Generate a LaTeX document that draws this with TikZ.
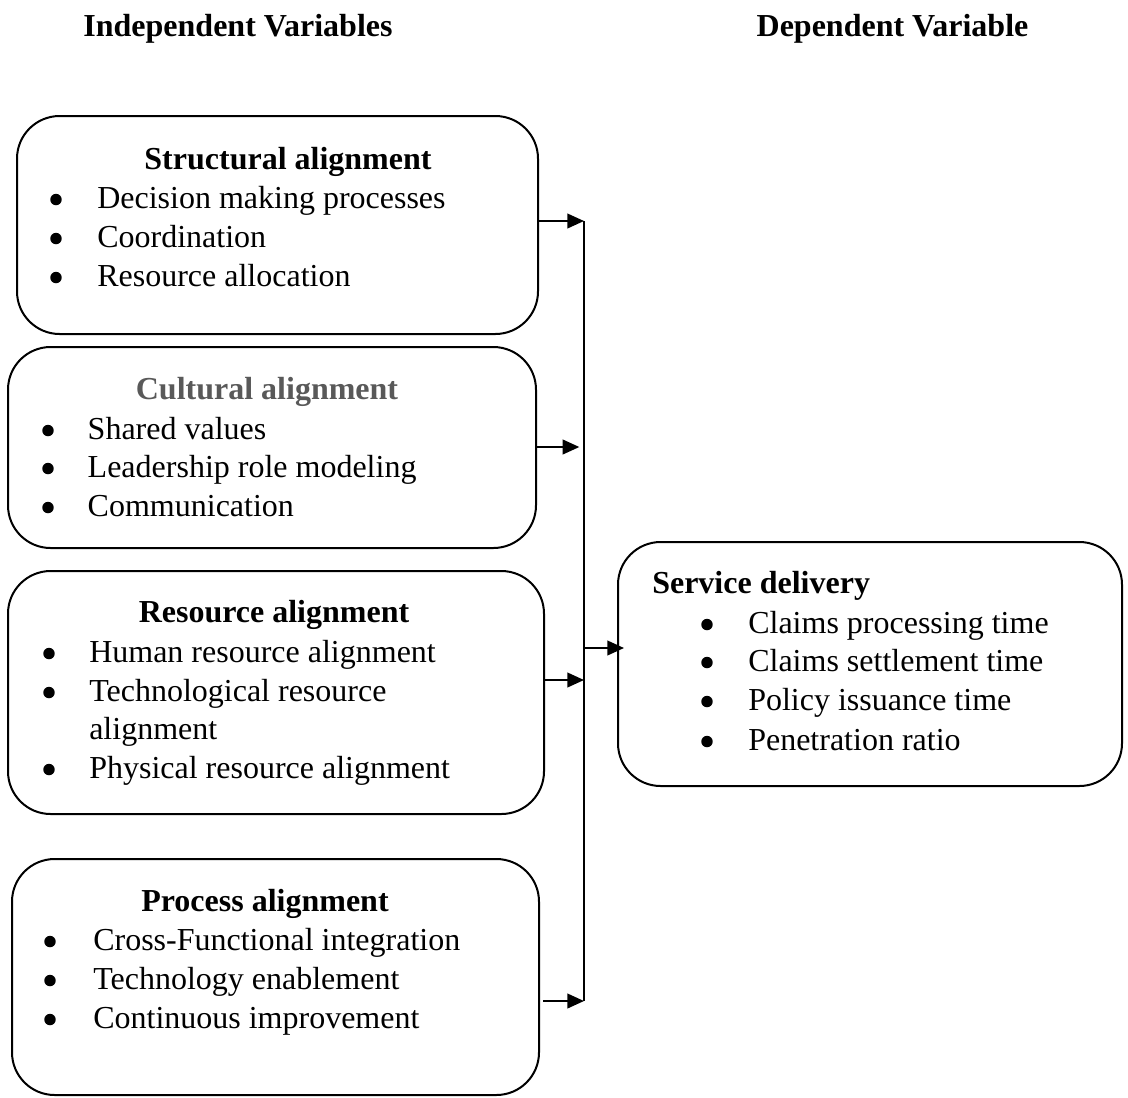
\documentclass[tikz,border=0pt]{standalone}
\usepackage{fontspec}
\setmainfont{Liberation Serif}
\usetikzlibrary{arrows.meta}
\definecolor{titlegrey}{HTML}{595959}
\newcommand{\bulmark}{\raisebox{2.2pt}{\tikz\fill (0,0) circle (4.3pt);}}
\begin{document}
\begin{tikzpicture}[x=0.75pt,y=-0.75pt,
  box/.style={draw, line width=1.5pt, rounded corners=32pt, inner sep=0pt, outer sep=0pt},
  txt/.style={anchor=west, inner sep=0pt, yshift=-3pt, font=\fontsize{24}{28}\selectfont, text height=16.8pt, text depth=6pt},
  ttl/.style={inner sep=0pt, yshift=-3pt, font=\fontsize{24}{28}\selectfont\bfseries, text height=16.8pt, text depth=6pt},
  arr/.style={line width=1.5pt, -{Triangle[length=12.5pt,width=11pt]}},
  bus/.style={line width=1.5pt},
]
\useasboundingbox (0,0) rectangle (1128,1097);

% headers
\node[ttl] (hiv) at (238,25) {Independent Variables};
\node[ttl] (hdv) at (892.5,25) {Dependent Variable};

% boxes
\node[box, minimum width=390.75pt, minimum height=163.5pt] (sa) at (277.5,225) {};
\node[box, minimum width=396pt, minimum height=150.75pt] (ca) at (272,447.5) {};
\node[box, minimum width=402pt, minimum height=182.25pt] (ra) at (276,692.5) {};
\node[box, minimum width=395.25pt, minimum height=177pt] (pa) at (275.5,977) {};
\node[box, minimum width=378pt, minimum height=183pt] (sd) at (870,664) {};

% structural
\node[ttl] (sat) at (288,158) {Structural alignment};
\node[txt] (sa1) at (50,197) {\makebox[35.25pt][l]{\bulmark}Decision making processes};
\node[txt] (sa2) at (50,236) {\makebox[35.25pt][l]{\bulmark}Coordination};
\node[txt] (sa3) at (50,275) {\makebox[35.25pt][l]{\bulmark}Resource allocation};

% cultural
\node[ttl, text=titlegrey] (cat) at (267,388) {Cultural alignment};
\node[txt] (ca1) at (42,428) {\makebox[34.1pt][l]{\bulmark}Shared values};
\node[txt] (ca2) at (42,466) {\makebox[34.1pt][l]{\bulmark}Leadership role modeling};
\node[txt] (ca3) at (42,505) {\makebox[34.1pt][l]{\bulmark}Communication};

% resource
\node[ttl] (rat) at (274,611) {Resource alignment};
\node[txt] (ra1) at (43,651) {\makebox[34.5pt][l]{\bulmark}Human resource alignment};
\node[txt] (ra2) at (43,690) {\makebox[34.5pt][l]{\bulmark}Technological resource};
\node[txt] (ra2b) at (89,728) {alignment};
\node[txt] (ra3) at (43,767) {\makebox[34.5pt][l]{\bulmark}Physical resource alignment};

% process
\node[ttl] (pat) at (265,900) {Process alignment};
\node[txt] (pa1) at (44,939) {\makebox[36.75pt][l]{\bulmark}Cross-Functional integration};
\node[txt] (pa2) at (44,978) {\makebox[36.75pt][l]{\bulmark}Technology enablement};
\node[txt] (pa3) at (44,1017) {\makebox[36.75pt][l]{\bulmark}Continuous improvement};

% service delivery
\node[ttl, anchor=west] (sdt) at (652,582) {Service delivery};
\node[txt] (sd1) at (701,622) {\makebox[35.25pt][l]{\bulmark}Claims processing time};
\node[txt] (sd2) at (701,660) {\makebox[35.25pt][l]{\bulmark}Claims settlement time};
\node[txt] (sd3) at (701,699) {\makebox[35.25pt][l]{\bulmark}Policy issuance time};
\node[txt] (sd4) at (701,739) {\makebox[35.25pt][l]{\bulmark}Penetration ratio};

% bus
\coordinate (j1) at (584,221);
\coordinate (j2) at (584,447);
\coordinate (j3) at (584,680);
\coordinate (j4) at (584,1001);
\coordinate (j5) at (584,648);
\draw[bus] (j1) -- (j4);

\draw[arr] (sa.east |- j1) -- (j1);
\draw[arr, shorten >=3.5pt] (ca.east |- j2) -- (j2);
\draw[arr] (ra.east |- j3) -- (j3);
\draw[arr, shorten <=3pt] (pa.east |- j4) -- (j4);
\draw[arr, shorten >=-4.5pt] (j5) -- (sd.west |- j5);
\end{tikzpicture}
\end{document}
